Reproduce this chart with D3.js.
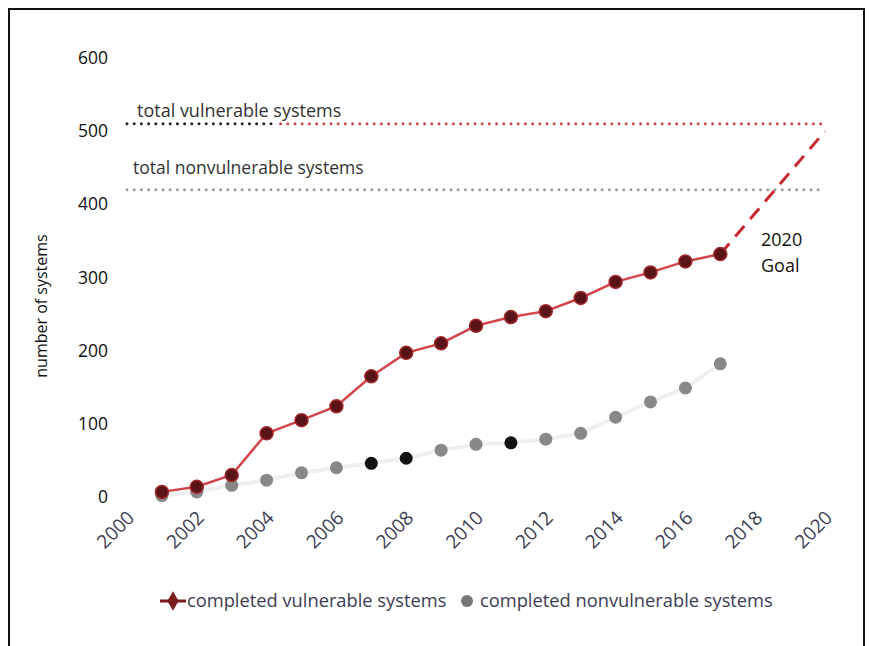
<!DOCTYPE html>
<html><head><meta charset="utf-8">
<script src="https://cdn.jsdelivr.net/npm/d3@7"></script>
<style>body{margin:0;background:#fff;} svg{display:block;font-family:"Open Sans",sans-serif;}</style>
</head><body>
<svg id="chart" width="869" height="646"></svg>
<script>
const years = [2001,2002,2003,2004,2005,2006,2007,2008,2009,2010,2011,2012,2013,2014,2015,2016,2017];
const vulnerable = [7,14,30,87,105,124,165,197,210,234,246,254,272,294,307,322,332];
const nonvulnerable = [2,7,16,23,33,40,46,53,64,72,74,79,87,109,130,149,182];
const highlightedYears = [2007,2008,2011];
const goalYears = [2017,2020];
const goalValues = [332,500];
const totalVulnerable = 510;
const totalNonvulnerable = 420;
const xTicks = [2000,2002,2004,2006,2008,2010,2012,2014,2016,2018,2020];
const yTicks = [0,100,200,300,400,500,600];
const legendLabels = ["completed vulnerable systems","completed nonvulnerable systems"];

const svg = d3.select("#chart");
const x = d3.scaleLinear().domain([2000,2020]).range([127,825]);
const y = d3.scaleLinear().domain([0,600]).range([497,58]);

// frame
svg.append("rect").attr("x",9).attr("y",9).attr("width",855).attr("height",645)
  .attr("fill","none").attr("stroke","#111").attr("stroke-width",2);

// y axis
const ya = svg.append("g").attr("transform",`translate(${x(2000)},0)`)
  .call(d3.axisLeft(y).tickValues(yTicks).tickSize(0).tickPadding(19));
ya.select(".domain").remove();
ya.selectAll("text").attr("font-size",17.5).attr("fill","#111").attr("font-family","Open Sans");

// x axis
const xa = svg.append("g").attr("transform",`translate(0,${y(0)})`)
  .call(d3.axisBottom(x).tickValues(xTicks).tickFormat(d3.format("d")).tickSize(0));
xa.select(".domain").remove();
xa.selectAll("text").attr("font-size",19).attr("fill","#3c3c52").attr("font-family","Open Sans")
  .attr("text-anchor","end").attr("dy",null).attr("y",0)
  .attr("transform","translate(8,22) rotate(-45)");

// y label
svg.append("text").attr("transform","translate(47,306) rotate(-90)").attr("text-anchor","middle")
  .attr("font-size",16).attr("fill","#111").text("number of systems");

// reference lines
const vSplit = 2004.2;
svg.append("line").attr("x1",x(2000)).attr("x2",x(vSplit)).attr("y1",y(totalVulnerable)).attr("y2",y(totalVulnerable))
  .attr("stroke","#222").attr("stroke-width",3).attr("stroke-dasharray","0 7.2").attr("stroke-linecap","round");
svg.append("line").attr("x1",x(vSplit)+7).attr("x2",x(2020)).attr("y1",y(totalVulnerable)).attr("y2",y(totalVulnerable))
  .attr("stroke","#d0484c").attr("stroke-width",3).attr("stroke-dasharray","0 7.2").attr("stroke-linecap","round");
svg.append("line").attr("x1",x(2000)).attr("x2",x(2020)).attr("y1",y(totalNonvulnerable)).attr("y2",y(totalNonvulnerable))
  .attr("stroke","#9a9a9a").attr("stroke-width",3).attr("stroke-dasharray","0 7.2").attr("stroke-linecap","round");
svg.append("text").attr("x",137).attr("y",y(totalVulnerable)-7).attr("font-size",18).attr("fill","#333").text("total vulnerable systems");
svg.append("text").attr("x",133).attr("y",y(totalNonvulnerable)-16).attr("font-size",17.5).attr("fill","#333").text("total nonvulnerable systems");

// goal dashed line
const line = d3.line().x(d=>x(d[0])).y(d=>y(d[1]));
svg.append("path").datum(goalYears.map((g,i)=>[g,goalValues[i]])).attr("d",line)
  .attr("fill","none").attr("stroke","#c8282e").attr("stroke-width",3).attr("stroke-dasharray","14 9");
svg.append("text").attr("x",761).attr("y",246).attr("font-size",18).attr("fill","#111").text("2020");
svg.append("text").attr("x",761).attr("y",272).attr("font-size",18).attr("fill","#111").text("Goal");

// nonvulnerable series
const nvData = years.map((yr,i)=>[yr,nonvulnerable[i]]);
svg.append("path").datum(nvData).attr("d",line).attr("fill","none").attr("stroke","#efefef").attr("stroke-width",4);
svg.selectAll(".nv").data(nvData).enter().append("circle")
  .attr("cx",d=>x(d[0])).attr("cy",d=>y(d[1])).attr("r",6.5)
  .attr("fill",d=>highlightedYears.includes(d[0])?"#111":"#888");

// vulnerable series
const vData = years.map((yr,i)=>[yr,vulnerable[i]]);
svg.append("path").datum(vData).attr("d",line).attr("fill","none").attr("stroke","#d2454b").attr("stroke-width",2.5);
svg.selectAll(".v").data(vData).enter().append("circle")
  .attr("cx",d=>x(d[0])).attr("cy",d=>y(d[1])).attr("r",6.5)
  .attr("fill","#5a1418").attr("stroke","#a0282c").attr("stroke-width",1.5);

// legend
const lg = svg.append("g");
lg.append("line").attr("x1",160).attr("x2",186).attr("y1",601).attr("y2",601).attr("stroke","#7a1c1c").attr("stroke-width",3);
lg.append("path").attr("d",d3.symbol(d3.symbolDiamond,110)()).attr("transform","translate(173,601)").attr("fill","#7a1c1c");
lg.append("text").attr("x",187).attr("y",607).attr("font-size",18.3).attr("fill","#3c3c52").text(legendLabels[0]);
lg.append("circle").attr("cx",467).attr("cy",601).attr("r",6).attr("fill","#777");
lg.append("text").attr("x",480).attr("y",607).attr("font-size",18.3).attr("fill","#3c3c52").text(legendLabels[1]);
</script>
</body></html>
